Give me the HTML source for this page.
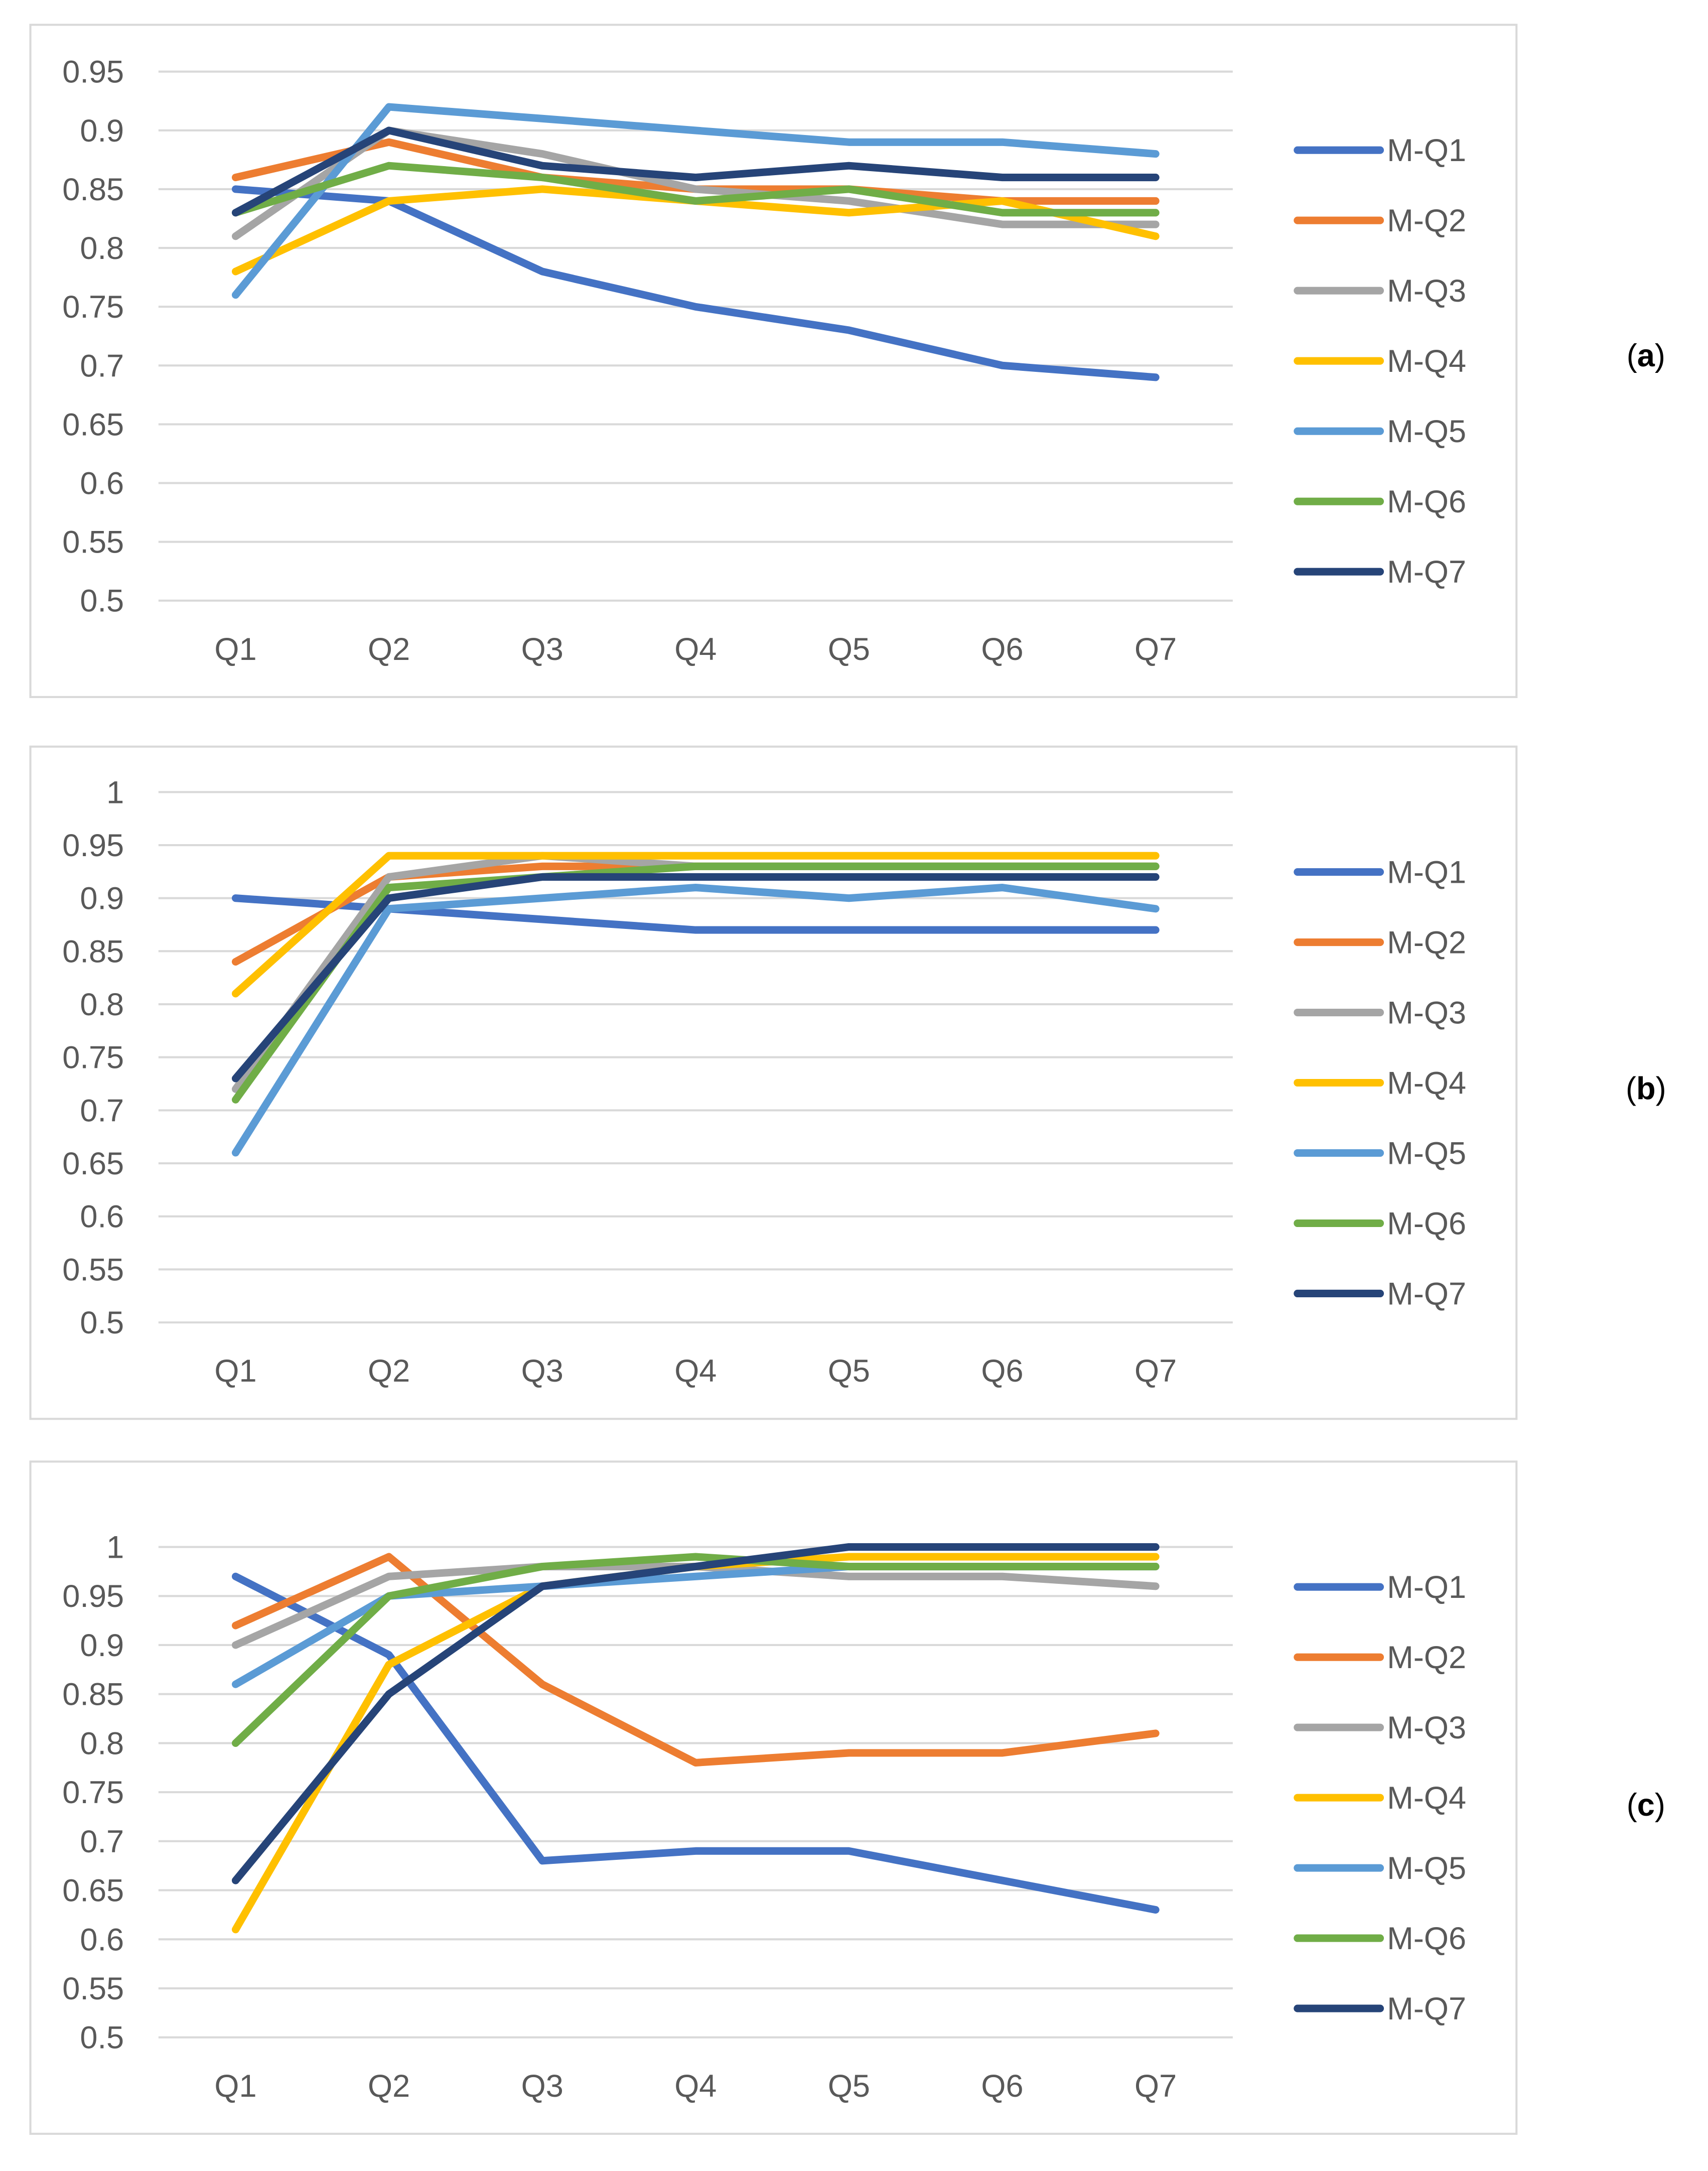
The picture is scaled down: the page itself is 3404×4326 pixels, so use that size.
<!DOCTYPE html>
<html><head><meta charset="utf-8">
<style>
html,body{margin:0;padding:0;background:#fff;}
svg{display:block;}
text{font-family:"Liberation Sans",sans-serif;}
</style></head>
<body>
<svg id="fig" width="3404" height="4326" viewBox="0 0 1240 1576" xmlns="http://www.w3.org/2000/svg"></svg>
<script>
const categories = ["Q1","Q2","Q3","Q4","Q5","Q6","Q7"];
const seriesNames = ["M-Q1","M-Q2","M-Q3","M-Q4","M-Q5","M-Q6","M-Q7"];
const colors = ["#4472C4","#ED7D31","#A5A5A5","#FFC000","#5B9BD5","#70AD47","#264478"];

const panelA = [
  [.85,.84,.78,.75,.73,.70,.69],
  [.86,.89,.86,.85,.85,.84,.84],
  [.81,.90,.88,.85,.84,.82,.82],
  [.78,.84,.85,.84,.83,.84,.81],
  [.76,.92,.91,.90,.89,.89,.88],
  [.83,.87,.86,.84,.85,.83,.83],
  [.83,.90,.87,.86,.87,.86,.86]
];
const panelB = [
  [.90,.89,.88,.87,.87,.87,.87],
  [.84,.92,.93,.93,.93,.93,.93],
  [.72,.92,.94,.93,.93,.93,.93],
  [.81,.94,.94,.94,.94,.94,.94],
  [.66,.89,.90,.91,.90,.91,.89],
  [.71,.91,.92,.93,.93,.93,.93],
  [.73,.90,.92,.92,.92,.92,.92]
];
const panelC = [
  [.97,.89,.68,.69,.69,.66,.63],
  [.92,.99,.86,.78,.79,.79,.81],
  [.90,.97,.98,.98,.97,.97,.96],
  [.61,.88,.96,.98,.99,.99,.99],
  [.86,.95,.96,.97,.98,.98,.98],
  [.80,.95,.98,.99,.98,.98,.98],
  [.66,.85,.96,.98,1.0,1.0,1.0]
];
const ticksA = ["0.5","0.55","0.6","0.65","0.7","0.75","0.8","0.85","0.9","0.95"];
const ticksBC = ["0.5","0.55","0.6","0.65","0.7","0.75","0.8","0.85","0.9","0.95","1"];

const NS = "http://www.w3.org/2000/svg";
const svg = document.getElementById("fig");
function mk(tag, attrs, parent){
  const e = document.createElementNS(NS, tag);
  for (const k in attrs) e.setAttribute(k, attrs[k]);
  (parent||svg).appendChild(e);
  return e;
}

function panel(cfg){
  const g = mk("g", {});
  
  
  const box = mk("rect", {x:22, y:cfg.top, width:1079, height:488, fill:"#fff", stroke:"#d9d9d9", "stroke-width":1.5}, g);
  
  
  const x0 = 115, x1 = 895;
  const ticks = cfg.ticks;
  const vmin = parseFloat(ticks[0]), vmax = parseFloat(ticks[ticks.length-1]);
  const yScale = v => cfg.yBottom - (v - vmin) / (vmax - vmin) * (cfg.yBottom - cfg.yTop);
  const xScale = i => 171 + i * (839 - 171) / (categories.length - 1);
  ticks.forEach(t => {
    const y = yScale(parseFloat(t));
    const ln = mk("line", {x1:x0, x2:x1, y1:y, y2:y, stroke:"#d9d9d9", "stroke-width":1.5}, g);
    
    
    const tx = mk("text", {x:90, y:y+8, "text-anchor":"end", "font-size":23, fill:"#595959"}, g);
    tx.textContent = t;
    
    
  });
  categories.forEach((c, i) => {
    const tx = mk("text", {x:xScale(i), y:cfg.xLabelY+8, "text-anchor":"middle", "font-size":23, fill:"#595959"}, g);
    tx.textContent = c;
    
    
  });
  cfg.data.forEach((vals, s) => {
    const pts = vals.map((v, i) => xScale(i).toFixed(1) + "," + yScale(v).toFixed(1)).join(" ");
    const pl = mk("polyline", {points:pts, fill:"none", stroke:colors[s], "stroke-width":5.5, "stroke-linejoin":"round", "stroke-linecap":"round"}, g);
    
    
  });
  seriesNames.forEach((n, s) => {
    const y = cfg.legendTop + s * 51;
    const lg = mk("g", {}, g);
    
    
    mk("line", {x1:942, x2:1002, y1:y, y2:y, stroke:colors[s], "stroke-width":5.5, "stroke-linecap":"round"}, lg);
    const tx = mk("text", {x:1007, y:y+8, "font-size":23, fill:"#595959"}, lg);
    tx.textContent = n;
  });
  const lb = mk("text", {x:1195, y:cfg.labelY+8, "text-anchor":"middle", "font-size":23, "font-family":"Liberation Serif, serif", fill:"#000"}, g);
  lb.innerHTML = '(<tspan font-weight="bold">' + cfg.label + '</tspan>)';
  
  
}

panel({label:"a", top:18, data:panelA, ticks:ticksA, yTop:52, yBottom:436, xLabelY:471, legendTop:109, labelY:258});
panel({label:"b", top:542, data:panelB, ticks:ticksBC, yTop:575, yBottom:960, xLabelY:995, legendTop:633, labelY:790});
panel({label:"c", top:1061, data:panelC, ticks:ticksBC, yTop:1123, yBottom:1479, xLabelY:1514, legendTop:1152, labelY:1310});
</script>
</body></html>
